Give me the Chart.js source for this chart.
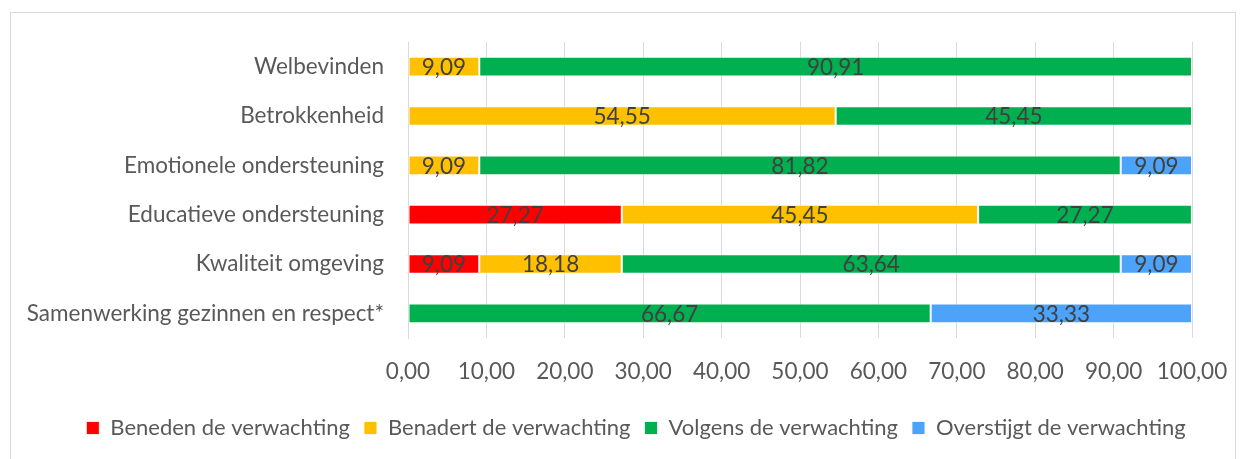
<!DOCTYPE html>
<html>
<head>
<meta charset="utf-8">
<script src="https://cdn.jsdelivr.net/npm/chart.js@4"></script>
<style>
  html, body { margin: 0; padding: 0; background: #ffffff; }
  #wrap { position: relative; width: 1248px; height: 459px; overflow: hidden; }
  #frame { position: absolute; left: 10px; top: 12px; width: 1226px; height: 470px; border: 1px solid #d9d9d9; box-sizing: border-box; }
  canvas { position: absolute; left: 0; top: 0; }
</style>
</head>
<body>
<div id="wrap">
  <div id="frame"></div>
  <canvas id="c" width="1248" height="459"></canvas>
</div>
<script>
const categories = [
  "Welbevinden",
  "Betrokkenheid",
  "Emotionele ondersteuning",
  "Educatieve ondersteuning",
  "Kwaliteit omgeving",
  "Samenwerking gezinnen en respect*"
];
const seriesNames = [
  "Beneden de verwachting",
  "Benadert de verwachting",
  "Volgens de verwachting",
  "Overstijgt de verwachting"
];
const beneden   = [0,     0,     0,     27.27, 9.09,  0];
const benadert  = [9.09,  54.55, 9.09,  45.45, 18.18, 0];
const volgens   = [90.91, 45.45, 81.82, 27.27, 63.64, 66.67];
const overstijgt= [0,     0,     9.09,  0,     9.09,  33.33];
const xTicks = [0, 10, 20, 30, 40, 50, 60, 70, 80, 90, 100];

const colors = ["#FF0000", "#FFC000", "#00B050", "#4DA3FA"];
const FONT = "Lato";
const FS = 22.5;
const LEGEND_FS = 22;

const fmt = v => v.toFixed(2).replace(".", ",");

const labelPlugin = {
  id: "barLabels",
  afterDatasetsDraw(chart) {
    const ctx = chart.ctx;
    ctx.save();
    ctx.font = FS + "px " + FONT;
    ctx.fillStyle = "#404040";
    ctx.textAlign = "center";
    ctx.textBaseline = "middle";
    chart.data.datasets.forEach((ds, di) => {
      const meta = chart.getDatasetMeta(di);
      meta.data.forEach((bar, i) => {
        const v = ds.data[i];
        if (!v) return;
        const p = bar.getProps(["x", "y", "base"], true);
        ctx.fillText(fmt(v), (p.x + p.base) / 2, p.y + 1);
      });
    });
    ctx.restore();
  }
};

// shift the legend so it is centred under the whole frame, as in the reference
const legendShift = {
  id: "legendShift",
  afterLayout(chart) {
    const lg = chart.legend;
    if (!lg) return;
    const target = 636;
    const cur = (lg.left + lg.right) / 2;
    const d = target - cur;
    lg.left += d;
    lg.right += d;
  }
};

const mk = (i, data) => ({
  label: seriesNames[i],
  data: data,
  backgroundColor: colors[i],
  borderColor: "rgba(255,255,255,0.8)",
  borderWidth: 1,
  borderSkipped: false,
  barPercentage: 0.8,
  categoryPercentage: 0.5
});

new Chart(document.getElementById("c"), {
  type: "bar",
  data: {
    labels: categories,
    datasets: [mk(0, beneden), mk(1, benadert), mk(2, volgens), mk(3, overstijgt)]
  },
  options: {
    indexAxis: "y",
    responsive: false,
    animation: false,
    devicePixelRatio: 1,
    layout: { padding: { top: 42, bottom: 10, left: 0, right: 56 } },
    scales: {
      x: {
        stacked: true,
        min: 0,
        max: 100,
        afterBuildTicks: s => { s.ticks = xTicks.map(v => ({ value: v })); },
        afterFit: s => { s.height = 65; },
        grid: { color: "#d9d9d9", lineWidth: 1, drawTicks: false },
        border: { display: false },
        ticks: {
          padding: 20,
          color: "#595959",
          font: { family: FONT, size: FS },
          callback: v => fmt(v),
          maxRotation: 0
        }
      },
      y: {
        stacked: true,
        afterFit: s => { s.width = 408; },
        grid: { display: false, drawTicks: false },
        border: { display: true, color: "#d9d9d9", width: 1 },
        ticks: {
          padding: 24,
          color: "#595959",
          font: { family: FONT, size: FS }
        }
      }
    },
    plugins: {
      legend: {
        position: "bottom",
        labels: {
          boxWidth: 13,
          boxHeight: 13,
          padding: 14,
          color: "#595959",
          font: { family: FONT, size: LEGEND_FS }
        }
      },
      tooltip: { enabled: false }
    }
  },
  plugins: [labelPlugin, legendShift]
});
</script>
</body>
</html>
